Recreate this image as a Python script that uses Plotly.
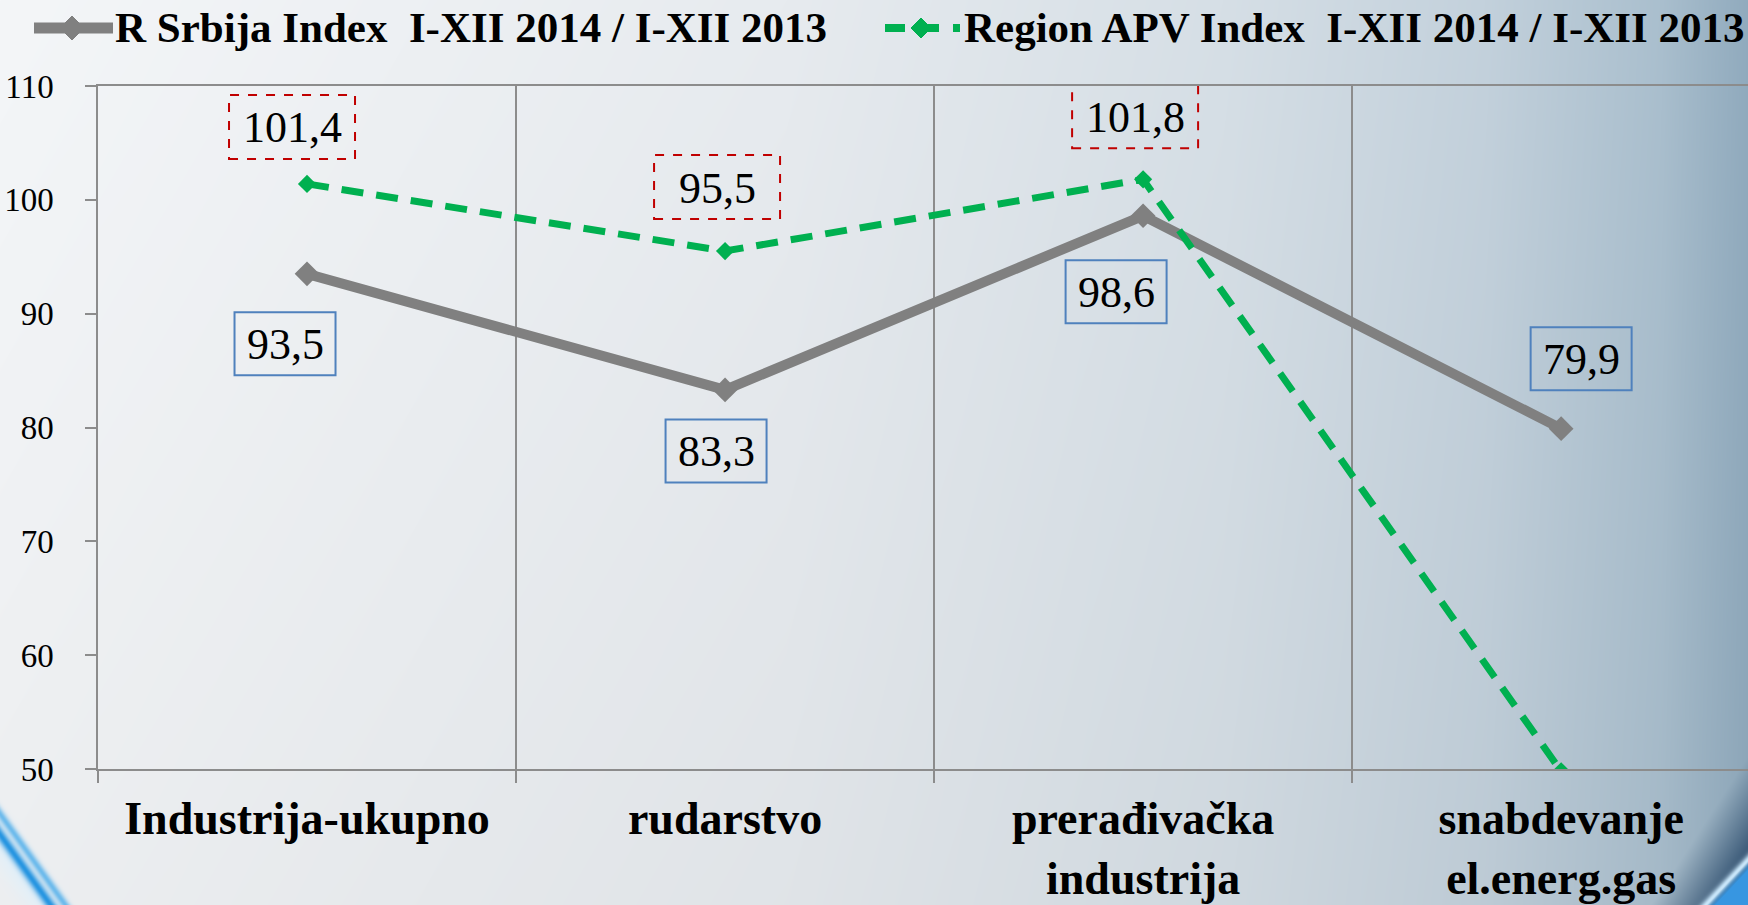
import base64, struct, zlib
import numpy as np
import plotly.graph_objects as go

# ---------------- data ----------------
categories = ["Industrija-ukupno", "rudarstvo", "prerađivačka<br>industrija", "snabdevanje<br>el.energ.gas"]
srbija = [93.5, 83.3, 98.6, 79.9]
apv = [101.4, 95.5, 101.8, 49.8]
name_srbija = "R Srbija Index  I-XII 2014 / I-XII 2013"
name_apv = "Region APV Index  I-XII 2014 / I-XII 2013"
y_ticks = [50, 60, 70, 80, 90, 100, 110]
apv_labelled = [True, True, True, False]

# label box offsets (px, box centre relative to point; +y = up)
srb_off = [(-22, -70), (-9, -61), (-27, -76), (20, 70)]
apv_off = [(-15, 57), (-8, 64), (-8, 63), (0, 0)]

W, H = 1748, 905
ML, MT, MB = 98, 86, 136
PW, PH = W - ML, H - MT - MB

def px(x):  # pixel -> paper x
    return (x - ML) / PW

def py(y):  # pixel -> paper y
    return (H - MB - y) / PH

# ---------------- background image ----------------
def png_uri(arr):
    h, w, _ = arr.shape
    raw = b"".join(b"\x00" + arr[i].tobytes() for i in range(h))
    def chunk(tag, data):
        c = struct.pack(">I", len(data)) + tag + data
        return c + struct.pack(">I", zlib.crc32(tag + data) & 0xffffffff)
    png = (b"\x89PNG\r\n\x1a\n" + chunk(b"IHDR", struct.pack(">IIBBBBB", w, h, 8, 2, 0, 0, 0))
           + chunk(b"IDAT", zlib.compress(raw, 9)) + chunk(b"IEND", b""))
    return "data:image/png;base64," + base64.b64encode(png).decode()

xx, yy = np.meshgrid(np.arange(W, dtype=float), np.arange(H, dtype=float))
t = xx / (W - 1)
stops_t = [0.0, 0.45, 0.7, 0.85, 0.95, 1.0]
stops_c = [(244, 246, 248), (231, 235, 239), (214, 223, 230), (195, 209, 220), (170, 191, 206), (145, 171, 190)]
img = np.zeros((H, W, 3))
for k in range(3):
    img[..., k] = np.interp(t, stops_t, [c[k] for c in stops_c])
img *= (1 - 0.03 * (yy / H))[..., None]

def blend(img, col, a):
    a = np.clip(a, 0, 1)[..., None]
    return img * (1 - a) + np.array(col, float) * a

def sdist(p1, p2):
    (x1, y1), (x2, y2) = p1, p2
    nx, ny = (y2 - y1), -(x2 - x1)
    n = np.hypot(nx, ny)
    return ((xx - x1) * nx + (yy - y1) * ny) / n

s1 = sdist((1748, 755), (1650, 905))
img = blend(img, (18, 52, 88), np.clip(s1 / 75, 0, 1) ** 1.1)
s2 = sdist((1748, 856), (1702, 905))
img = blend(img, (200, 230, 250), np.exp(-((s2 - 2) / 4) ** 2))
img = blend(img, (55, 150, 225), np.clip((s2 - 3) / 6, 0, 1))
s3 = sdist((0, 838), (48, 905))
img = blend(img, (225, 240, 250), np.exp(-((s3 + 4) / 14) ** 2) * 0.8)
img = blend(img, (40, 150, 225), np.exp(-((s3 - 2) / 5) ** 2))
img = blend(img, (80, 175, 235), np.exp(-((s3 - 14) / 4) ** 2) * 0.8)
bg = png_uri(np.clip(img, 0, 255).astype(np.uint8))

# ---------------- figure ----------------
FONT = "Liberation Serif, Tinos, 'Times New Roman', Times, serif"
GRAY, GREEN = "#808080", "#00B050"
fig = go.Figure()
fig.add_trace(go.Scatter(
    x=categories, y=srbija, name=name_srbija, mode="lines+markers",
    line=dict(color=GRAY, width=10),
    marker=dict(symbol="diamond", size=19, color=GRAY), showlegend=False,
))
fig.add_trace(go.Scatter(
    x=categories, y=apv, name=name_apv, mode="lines+markers",
    line=dict(color=GREEN, width=7, dash="22px,13px"),
    marker=dict(symbol="diamond", size=14, color=GREEN), showlegend=False,
))

shapes, annos = [], []
def add_label(cat, val, off, w, h, color, dash):
    dx, dy = off
    shapes.append(dict(type="rect", xref="x", yref="y", xsizemode="pixel", ysizemode="pixel",
                       xanchor=cat, yanchor=val, x0=dx - w / 2, x1=dx + w / 2,
                       y0=dy - h / 2, y1=dy + h / 2,
                       line=dict(color=color, width=2, dash=dash), fillcolor="rgba(0,0,0,0)"))
    annos.append(dict(x=cat, y=val, xref="x", yref="y", text=f"{val:.1f}".replace(".", ","),
                      showarrow=False, xshift=dx, yshift=dy - 1, yanchor="middle",
                      font=dict(family=FONT, size=44, color="black")))

for c, v, o in zip(categories, srbija, srb_off):
    add_label(c, v, o, 101, 63, "#4F81BD", "solid")
for c, v, o, show in zip(categories, apv, apv_off, apv_labelled):
    if show:
        add_label(c, v, o, 126, 64, "#C00000", "dash")

# ---- legend (drawn manually in paper coordinates) ----
LEG_Y = 28
def diamond_path(cx, cy, r):
    return (f"M {px(cx - r)} {py(cy)} L {px(cx)} {py(cy - r)} L {px(cx + r)} {py(cy)} "
            f"L {px(cx)} {py(cy + r)} Z")

shapes.append(dict(type="line", xref="paper", yref="paper", x0=px(34), x1=px(113),
                   y0=py(LEG_Y), y1=py(LEG_Y), line=dict(color=GRAY, width=11)))
shapes.append(dict(type="path", xref="paper", yref="paper", path=diamond_path(72, LEG_Y, 12),
                   fillcolor=GRAY, line=dict(color=GRAY, width=1)))
shapes.append(dict(type="line", xref="paper", yref="paper", x0=px(885), x1=px(960),
                   y0=py(LEG_Y), y1=py(LEG_Y), line=dict(color=GREEN, width=8, dash="20px,14px")))
shapes.append(dict(type="path", xref="paper", yref="paper", path=diamond_path(921, LEG_Y, 10),
                   fillcolor=GREEN, line=dict(color=GREEN, width=1)))
for txt, x0 in [(name_srbija, 113), (name_apv, 962)]:
    annos.append(dict(x=px(x0), y=py(LEG_Y), xref="paper", yref="paper", text=txt,
                      showarrow=False, xanchor="left", yanchor="middle", yshift=0,
                      font=dict(family=FONT, size=43, color="black", weight="bold")))

fig.update_layout(
    width=W, height=H,
    margin=dict(l=ML, r=0, t=MT, b=MB, autoexpand=False),
    paper_bgcolor="white", plot_bgcolor="rgba(0,0,0,0)",
    showlegend=False,
    images=[dict(source=bg, xref="paper", yref="paper", x=px(0), y=py(0),
                 sizex=W / PW, sizey=H / PH, xanchor="left", yanchor="top",
                 sizing="stretch", layer="below")],
    shapes=shapes, annotations=annos,
    xaxis=dict(type="category", range=[-0.5, 3.447], tickson="boundaries", automargin=False,
               showgrid=True, gridcolor="#8C8C8C", gridwidth=1.5,
               showline=True, linecolor="#8C8C8C", linewidth=2, mirror=True,
               ticks="outside", ticklen=12, tickcolor="#8C8C8C", tickwidth=1.5,
               tickfont=dict(family=FONT, size=46, color="black", weight="bold"),
               ticklabelstandoff=8),
    yaxis=dict(range=[50, 110], tickvals=y_ticks, showgrid=False, zeroline=False, automargin=False,
               showline=True, linecolor="#8C8C8C", linewidth=1.5,
               ticks="outside", ticklen=11, tickcolor="#8C8C8C", tickwidth=1.5,
               tickfont=dict(family=FONT, size=33, color="black"),
               ticklabelstandoff=25),
)
fig.write_html("out.html", config={"displayModeBar": False},
               post_script="document.body.style.margin='0px';document.body.style.overflow='hidden';")
